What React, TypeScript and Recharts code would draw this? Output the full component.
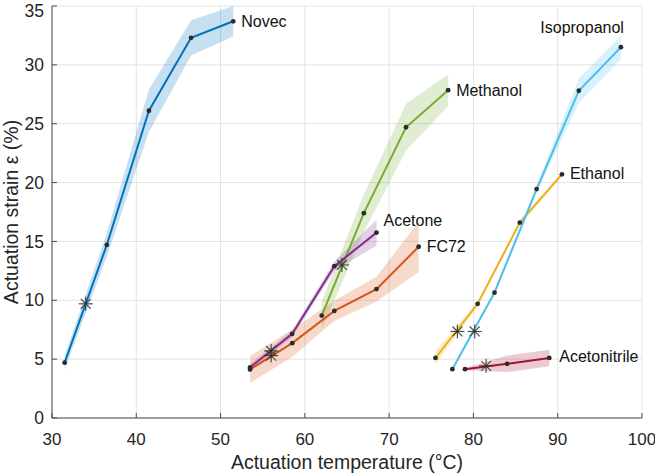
import React from 'react';
import { ComposedChart, Line, Area, Scatter, XAxis, YAxis, CartesianGrid, ReferenceDot } from 'recharts';

// temperatures (°C), strains (%), and half-width of shaded spread (%)
const novecT = [31.5, 36.5, 41.5, 46.5, 51.5];
const novecS = [4.7, 14.7, 26.1, 32.3, 33.7];
const novecE = [0.6, 1.0, 1.8, 1.5, 1.3];

const methanolT = [62, 67, 72, 77];
const methanolS = [8.7, 17.4, 24.7, 27.85];
const methanolE = [1.2, 1.6, 2.0, 1.35];

const acetoneT = [53.5, 58.5, 63.5, 68.5];
const acetoneS = [4.3, 7.15, 12.9, 15.75];
const acetoneE = [0.3, 0.3, 0.4, 1.1];

const fc72T = [53.5, 58.5, 63.5, 68.5, 73.5];
const fc72S = [4.12, 6.36, 9.1, 10.95, 14.55];
const fc72E = [1.15, 1.15, 0.85, 1.05, 2.15];

const ethanolT = [75.5, 80.5, 85.5, 90.5];
const ethanolS = [5.1, 9.7, 16.6, 20.7];
const ethanolE = [0.6, 0.2, 0.2, 0.2];

const isopropanolT = [77.5, 82.5, 87.5, 92.5, 97.5];
const isopropanolS = [4.15, 10.65, 19.45, 27.8, 31.5];
const isopropanolE = [0.1, 0.2, 0.3, 1.05, 1.0];

const acetonitrileT = [79, 84, 89];
const acetonitrileS = [4.15, 4.6, 5.1];
const acetonitrileE = [0.1, 0.7, 0.7];

// asterisk markers
const starT = [34, 56, 56, 64.4, 78.1, 80.15, 81.5];
const starS = [9.7, 5.7, 5.3, 13.0, 7.35, 7.35, 4.43];

const xTicks = [30, 40, 50, 60, 70, 80, 90, 100];
const yTicks = [0, 5, 10, 15, 20, 25, 30, 35];

const series = [
  { key: 'novec', name: 'Novec', t: novecT, s: novecS, e: novecE, color: '#0072BD', dx: 8, dy: 0, anchor: 'start' },
  { key: 'methanol', name: 'Methanol', t: methanolT, s: methanolS, e: methanolE, color: '#77AC30', dx: 8, dy: 0, anchor: 'start' },
  { key: 'acetone', name: 'Acetone', t: acetoneT, s: acetoneS, e: acetoneE, color: '#7E2F8E', dx: 7, dy: -12, anchor: 'start' },
  { key: 'fc72', name: 'FC72', t: fc72T, s: fc72S, e: fc72E, color: '#D95319', dx: 8, dy: 0, anchor: 'start' },
  { key: 'ethanol', name: 'Ethanol', t: ethanolT, s: ethanolS, e: ethanolE, color: '#EDB120', dx: 8, dy: -1, anchor: 'start' },
  { key: 'isopropanol', name: 'Isopropanol', t: isopropanolT, s: isopropanolS, e: isopropanolE, color: '#4DBEEE', dx: 3, dy: -20, anchor: 'end' },
  { key: 'acetonitrile', name: 'Acetonitrile', t: acetonitrileT, s: acetonitrileS, e: acetonitrileE, color: '#A2142F', dx: 10, dy: -2, anchor: 'start' },
];

const rows: any[] = [];
series.forEach((ser) => {
  ser.t.forEach((t, i) => {
    rows.push({ t, [ser.key]: ser.s[i], [ser.key + 'Band']: [ser.s[i] - ser.e[i], ser.s[i] + ser.e[i]] });
  });
});
rows.sort((a, b) => a.t - b.t);

const stars = starT.map((t, i) => ({ t, s: starS[i] }));

const Star = (props: any) => {
  const { cx, cy } = props;
  const r = 7;
  const d = r * 0.707;
  return (
    <g stroke="#333" strokeWidth={1.2} strokeOpacity={0.85}>
      <line x1={cx - r} y1={cy} x2={cx + r} y2={cy} />
      <line x1={cx} y1={cy - r} x2={cx} y2={cy + r} />
      <line x1={cx - d} y1={cy - d} x2={cx + d} y2={cy + d} />
      <line x1={cx - d} y1={cy + d} x2={cx + d} y2={cy - d} />
    </g>
  );
};

const textColor = '#262626';
const font = '"Liberation Sans", Arial, sans-serif';

export default function App() {
  return (
    <div style={{ width: 655, height: 474, fontFamily: font }}>
      <style>{`body{margin:0}`}</style>
      <ComposedChart width={655} height={474} data={rows} margin={{ top: 6, right: 13, left: 0, bottom: 0 }}>
        <CartesianGrid stroke="#e3e3e3" strokeWidth={1} />
        <XAxis
          type="number"
          dataKey="t"
          domain={[30, 100]}
          ticks={xTicks}
          allowDataOverflow
          height={56}
          stroke="#4d4d4d"
          tickSize={-5}
          tickMargin={20}
          tick={{ fill: textColor, fontSize: 17 }}
          label={{ value: 'Actuation temperature (°C)', position: 'insideBottom', offset: 5, fill: textColor, fontSize: 19.5 }}
        />
        <YAxis
          type="number"
          domain={[0, 35]}
          ticks={yTicks}
          allowDataOverflow
          width={52}
          stroke="#4d4d4d"
          tickSize={-5}
          tickMargin={13}
          tick={{ fill: textColor, fontSize: 17.5 }}
          label={{ value: 'Actuation strain ε (%)', angle: -90, position: 'insideLeft', offset: 11, fill: textColor, fontSize: 19.5, style: { textAnchor: 'middle' } }}
        />
        {series.map((ser) => (
          <Area
            key={ser.key + 'Band'}
            dataKey={ser.key + 'Band'}
            type="linear"
            stroke="none"
            fill={ser.color}
            fillOpacity={0.22}
            connectNulls
            isAnimationActive={false}
          />
        ))}
        {series.map((ser) => (
          <Line
            key={ser.key}
            dataKey={ser.key}
            type="linear"
            stroke={ser.color}
            strokeWidth={2}
            dot={{ r: 2.4, fill: '#2b2b2b', stroke: 'none' }}
            activeDot={false}
            connectNulls
            isAnimationActive={false}
          />
        ))}
        <Scatter data={stars} dataKey="s" shape={<Star />} isAnimationActive={false} />
        {series.map((ser) => {
          const n = ser.t.length - 1;
          return (
            <ReferenceDot
              key={ser.key + 'Label'}
              x={ser.t[n]}
              y={ser.s[n]}
              r={0}
              stroke="none"
              fill="none"
              label={(p: any) => {
                const vb = p.viewBox || {};
                const cx = vb.x + (vb.width || 0) / 2;
                const cy = vb.y + (vb.height || 0) / 2;
                return (
                  <text
                    x={cx + ser.dx}
                    y={cy + ser.dy}
                    dy="0.35em"
                    textAnchor={ser.anchor}
                    fill="#111"
                    fontSize={16}
                    fontFamily={font}
                  >
                    {ser.name}
                  </text>
                );
              }}
            />
          );
        })}
      </ComposedChart>
    </div>
  );
}
